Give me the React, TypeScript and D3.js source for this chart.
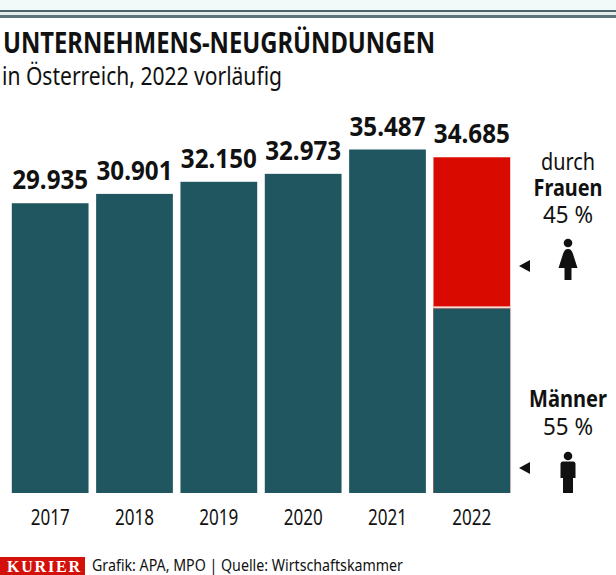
import React from "react";
import * as d3 from "d3";

const years = ["2017", "2018", "2019", "2020", "2021", "2022"];
const totals = [29935, 30901, 32150, 32973, 35487, 34685];
const totalLabels = ["29.935", "30.901", "32.150", "32.973", "35.487", "34.685"];
const womenShare2022 = 0.45;

const W = 616, H = 575;
const TEAL = "#1f565f", RED = "#d90b00", INK = "#111111";
const FONT = "'Noto Sans', Lato, sans-serif";

const x = d3.scaleBand<string>().domain(years).range([8, 514]).paddingInner(0.09).paddingOuter(0.045);
const y = d3.scaleLinear().domain([0, 35487]).range([493, 149.5]);

function T(p: any) {
  const { len, children, ...r } = p;
  return <text fontFamily={FONT} fill={INK} textLength={len} lengthAdjust="spacingAndGlyphs" {...r}>{children}</text>;
}

export default function App() {
  const last = years.length - 1;
  const lastX = x(years[last])!;
  const split = y(totals[last] * (1 - womenShare2022));
  return (
    <svg width={W} height={H} viewBox={`0 0 ${W} ${H}`} style={{ position: "absolute", left: 0, top: 0, background: "#fff" }}>
      <rect x={0} y={0} width={W} height={10} fill="#f1f9f9" />
      <rect x={0} y={10} width={W} height={2} fill="#4d6468" />
      <rect x={0} y={12} width={W} height={3} fill="#e4ecec" />
      <rect x={0} y={15} width={W} height={3} fill="#5f7579" />

      <T x={3} y={53} fontSize={29} fontWeight={700} len={432}>UNTERNEHMENS-NEUGRÜNDUNGEN</T>
      <T x={2} y={85} fontSize={26} len={280}>in Österreich, 2022 vorläufig</T>

      {years.map((yr, i) => (
        <g key={yr}>
          <rect x={x(yr)} y={y(totals[i])} width={x.bandwidth()} height={y(0) - y(totals[i])} fill={i === last ? RED : TEAL} />
          <T x={x(yr)! + x.bandwidth() / 2} y={y(totals[i]) - 14} fontSize={26} fontWeight={700} textAnchor="middle" len={76}>{totalLabels[i]}</T>
          <T x={x(yr)! + x.bandwidth() / 2} y={525} fontSize={21} textAnchor="middle" len={39}>{yr}</T>
        </g>
      ))}
      <rect x={lastX} y={split} width={x.bandwidth()} height={y(0) - split} fill={TEAL} />
      <rect x={lastX} y={split - 2} width={x.bandwidth()} height={2} fill="#f6d9d2" />

      <T x={568} y={170} fontSize={24} textAnchor="middle" len={54}>durch</T>
      <T x={568} y={196} fontSize={24} fontWeight={700} textAnchor="middle" len={69}>Frauen</T>
      <T x={568} y={223} fontSize={24} textAnchor="middle" len={50}>45 %</T>
      <T x={568} y={407} fontSize={24} fontWeight={700} textAnchor="middle" len={78}>Männer</T>
      <T x={568} y={435} fontSize={24} textAnchor="middle" len={50}>55 %</T>

      <path d="M519 266 L530 260 L530 272 Z" fill={INK} />
      <path d="M519 468 L530 462 L530 474 Z" fill={INK} />

      <g fill={INK}>
        <circle cx={568} cy={243} r={4.3} />
        <path d="M568 249 C 571 249 572 251 573 254 L577.5 268 L571.5 268 L571.5 280 L564.5 280 L564.5 268 L558.5 268 L563 254 C 564 251 565 249 568 249 Z" />
        <circle cx={568} cy={456} r={4.3} />
        <path d="M563 461.5 L573 461.5 Q575.5 461.5 575.5 464 L575.5 478 L573 478 L573 493 L563 493 L563 478 L560.5 478 L560.5 464 Q560.5 461.5 563 461.5 Z" />
      </g>

      <rect x={0} y={557} width={85} height={18} fill="#d3100a" />
      <text x={7} y={572} fontFamily="'Liberation Serif', serif" fontWeight={700} fontSize={16} fill="#fff" textLength={73} lengthAdjust="spacing">KURIER</text>
      <T x={92} y={571} fontSize={15.5} len={311}>Grafik: APA, MPO | Quelle: Wirtschaftskammer</T>
    </svg>
  );
}
